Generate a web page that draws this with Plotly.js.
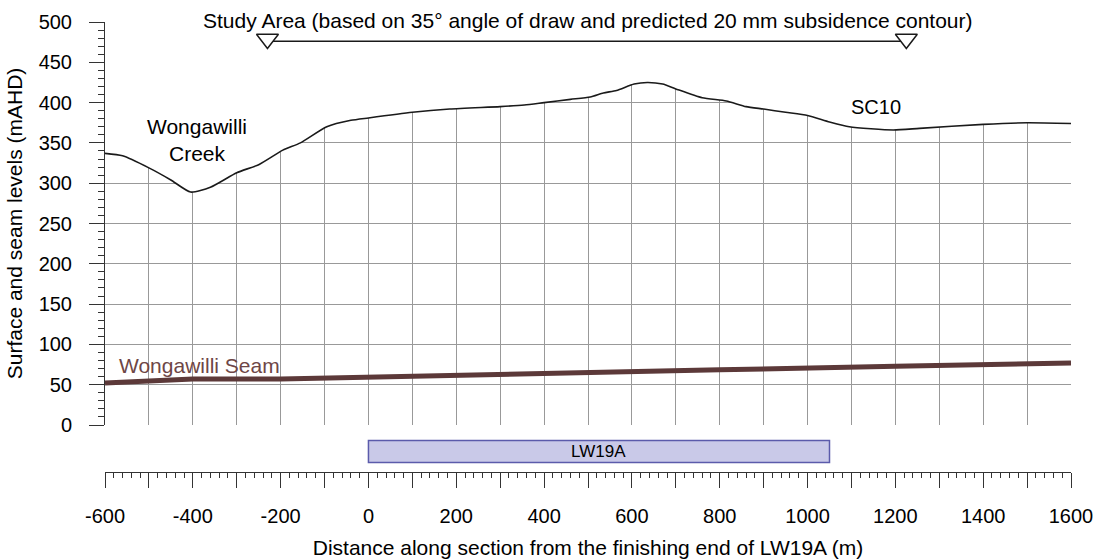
<!DOCTYPE html>
<html>
<head>
<meta charset="utf-8">
<script src="https://cdn.plot.ly/plotly-3.0.1.min.js"></script>
<style>html,body{margin:0;padding:0;background:#fff;}#chart{width:1099px;height:559px;}</style>
</head>
<body>
<div id="chart"></div>
<script>
// Surface profile (mAHD) along the section
const surfaceX = [-600, -560, -500, -450, -405, -360, -300, -250, -195, -155, -95, -40, 0, 100, 185, 300, 355, 400, 460, 505, 535, 565, 605, 635, 670, 700, 760, 815, 860, 900, 950, 1000, 1050, 1095, 1195, 1255, 1400, 1500, 1600];
const surfaceY = [337, 334, 319, 304, 289, 295, 313, 323, 341, 350, 370, 378, 381, 388, 392, 395, 397, 400, 404, 407, 412, 415, 423, 425, 423, 417, 406, 402, 395, 392, 388, 384, 376, 370, 366, 368, 373, 375, 374];

// Wongawilli Seam level (mAHD)
const seamX = [-600, -500, -400, -200, 0, 400, 800, 1200, 1600];
const seamY = [52, 54.5, 57, 57, 59, 64, 68.5, 73, 77];

// Study area extents
const studyX = [-230, 1225];
const studyLevel = 476;

// Longwall panel
const panelNames = ['LW19A'];
const panelStart = [0];
const panelEnd = [1050];

// Axis ticks
const xTickVals = [-600, -500, -400, -300, -200, -100, 0, 100, 200, 300, 400, 500, 600, 700, 800, 900, 1000, 1100, 1200, 1300, 1400, 1500, 1600];
const xTickText = ['-600', '', '-400', '', '-200', '', '0', '', '200', '', '400', '', '600', '', '800', '', '1000', '', '1200', '', '1400', '', '1600'];
const yTickVals = [0, 50, 100, 150, 200, 250, 300, 350, 400, 450, 500];

const FONT = 'Liberation Sans, Arial, sans-serif';
const xRange = [-600, 1600];
const yRange = [0, 500];

const traces = [
  // invisible ceiling used to blank the grid above the ground surface
  {x: [xRange[0], xRange[1]], y: [yRange[1] + 20, yRange[1] + 20], mode: 'lines',
   line: {width: 0, color: 'rgba(0,0,0,0)'}, hoverinfo: 'skip', showlegend: false},
  {x: surfaceX, y: surfaceY, mode: 'lines', fill: 'tonexty', fillcolor: '#ffffff',
   line: {color: '#1a1a1a', width: 1.6, shape: 'spline', smoothing: 0.6}, showlegend: false},
  {x: seamX, y: seamY, mode: 'lines', line: {color: '#5c3939', width: 5}, showlegend: false},
  {x: studyX, y: [studyLevel, studyLevel], mode: 'lines', line: {color: '#1a1a1a', width: 1.5}, showlegend: false},
  {x: studyX, y: [studyLevel + 3, studyLevel + 3], mode: 'markers',
   marker: {symbol: 'triangle-down', size: 19, color: '#ffffff', line: {color: '#1a1a1a', width: 1.5}}, showlegend: false}
];

const shapes = panelNames.map((n, i) => ({
  type: 'rect', xref: 'x', yref: 'paper', x0: panelStart[i], x1: panelEnd[i], y0: 0.021, y1: 0.07,
  fillcolor: '#c9c9e8', line: {color: '#5b5bab', width: 1.5}, layer: 'above'
}));

const annotations = [
  {xref: 'paper', x: 0.5, yref: 'paper', y: 1.003, text: 'Study Area (based on 35\u00b0 angle of draw and predicted 20 mm subsidence contour)',
   showarrow: false, font: {size: 21, color: '#000'}, xanchor: 'center', yanchor: 'middle'},
  {x: -391, y: 353, text: 'Wongawilli<br>Creek', showarrow: false, font: {size: 21, color: '#000'}, xanchor: 'center', yanchor: 'middle'},
  {x: 1157, y: 394, text: 'SC10', showarrow: false, font: {size: 20, color: '#000'}, xanchor: 'center', yanchor: 'middle'},
  {x: -573, y: 74, text: 'Wongawilli Seam', showarrow: false, font: {size: 21, color: '#6e4646'}, xanchor: 'left', yanchor: 'middle'}
].concat(panelNames.map((n, i) => ({
  xref: 'x', yref: 'paper', x: (panelStart[i] + panelEnd[i]) / 2, y: 0.0455, text: n, showarrow: false,
  font: {size: 17, color: '#000'}, xanchor: 'center', yanchor: 'middle'
})));

const layout = {
  width: 1099, height: 559,
  margin: {l: 105, r: 28, t: 22, b: 87},
  paper_bgcolor: '#ffffff', plot_bgcolor: '#ffffff',
  font: {family: FONT, size: 20, color: '#000'},
  showlegend: false,
  xaxis: {
    range: xRange, anchor: 'free', position: 0,
    tickmode: 'array', tickvals: xTickVals, ticktext: xTickText,
    ticks: 'outside', ticklen: 15, tickwidth: 1, tickcolor: '#333',
    minor: {tickmode: 'linear', tick0: -600, dtick: 20, ticks: 'outside', ticklen: 5, tickwidth: 1, tickcolor: '#333', showgrid: false},
    showgrid: true, gridcolor: '#999999', gridwidth: 1,
    showline: true, linecolor: '#333', linewidth: 1, zeroline: false,
    tickfont: {size: 20}, ticklabelstandoff: 11,
    title: {text: 'Distance along section from the finishing end of LW19A (m)', font: {size: 21}, standoff: 20},
    automargin: false
  },
  yaxis: {
    range: yRange, domain: [0.1044, 1],
    tickmode: 'array', tickvals: yTickVals,
    ticks: 'outside', ticklen: 15, tickwidth: 1, tickcolor: '#333',
    minor: {tickmode: 'linear', tick0: 0, dtick: 10, ticks: 'outside', ticklen: 6, tickwidth: 1, tickcolor: '#333', showgrid: false},
    showgrid: true, gridcolor: '#999999', gridwidth: 1,
    showline: true, linecolor: '#333', linewidth: 1, zeroline: false,
    tickfont: {size: 20}, ticklabelstandoff: 13,
    title: {text: 'Surface and seam levels (mAHD)', font: {size: 21}, standoff: 10},
    automargin: false
  },
  shapes: shapes,
  annotations: annotations
};

Plotly.newPlot('chart', traces, layout, {staticPlot: true, displayModeBar: false});
</script>
</body>
</html>
